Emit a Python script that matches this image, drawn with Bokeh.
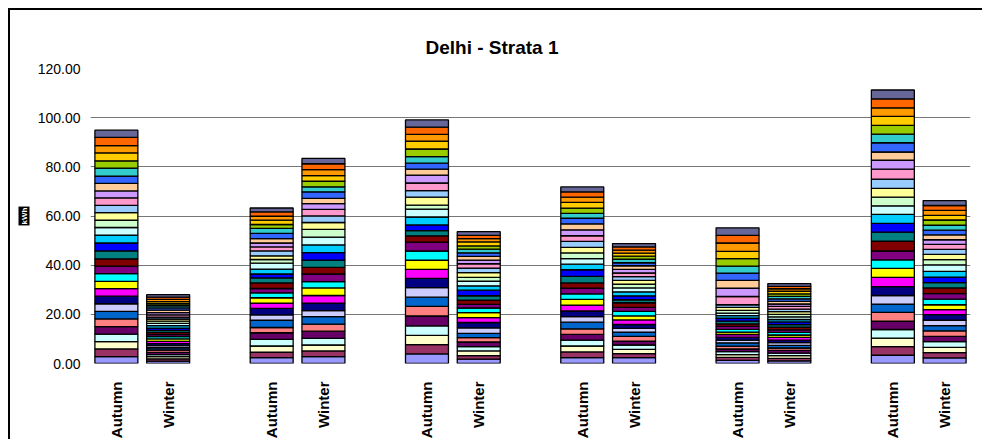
import math
from bokeh.plotting import figure
from bokeh.models import ColumnDataSource, FixedTicker, PrintfTickFormatter, Range1d, Title
from bokeh.embed import file_html
from bokeh.resources import INLINE

title_text = "Delhi -  Strata 1"
y_label = "kWh"
seasons = ["Autumn", "Winter"] * 6
y_ticks = [0, 20, 40, 60, 80, 100, 120]

# Excel default series palette, series 1 (bottom) .. 31 (top)
colors = ["#9999FF", "#993366", "#FFFFCC", "#CCFFFF", "#660066", "#FF8080", "#0066CC",
          "#CCCCFF", "#000080", "#FF00FF", "#FFFF00", "#00FFFF", "#800080", "#800000",
          "#008080", "#0000FF", "#00CCFF", "#CCFFFF", "#CCFFCC", "#FFFF99", "#99CCFF",
          "#FF99CC", "#CC99FF", "#FFCC99", "#3366FF", "#33CCCC", "#99CC00", "#FFCC00",
          "#FF9900", "#FF6600", "#666699"]

# segment values of each bar, bottom to top (kWh)
autumn_1 = [2.82, 3.09, 2.95, 3.09, 3.09, 3.09, 3.09, 3.09, 3.09, 3.09, 2.95, 3.09, 3.09, 2.95, 3.22, 3.22,
            3.22, 3.09, 2.95, 3.09, 2.95, 3.09, 2.82, 3.09, 2.95, 3.22, 2.95, 3.22, 2.95, 3.36, 2.95]
winter_1 = [1.0, 0.9, 0.9, 0.8, 0.9, 1.0, 0.9, 0.9, 0.8, 0.9, 1.0, 0.9, 0.9, 0.9, 0.8, 0.9,
            1.0, 0.9, 0.9, 0.9, 0.8, 0.9, 0.9, 1.0, 0.9, 0.9, 0.8, 0.9, 0.9, 0.9, 1.0]
autumn_2 = [2.42, 2.15, 2.55, 2.69, 2.69, 2.15, 2.95, 2.15, 2.69, 2.15, 2.15, 2.01, 1.75, 2.28, 2.01, 1.61,
            2.01, 2.42, 1.48, 1.48, 2.01, 1.61, 1.61, 1.75, 2.15, 2.01, 1.61, 1.75, 1.61, 1.75, 1.61]
winter_2 = [2.82, 2.28, 2.42, 2.69, 2.95, 2.82, 3.09, 2.42, 3.09, 3.09, 3.09, 2.55, 3.09, 2.69, 2.95, 3.09,
            3.09, 3.22, 3.09, 2.82, 2.69, 2.69, 2.28, 2.15, 2.69, 2.01, 2.28, 2.28, 2.42, 2.42, 2.15]
autumn_3 = [3.89, 3.76, 3.76, 3.89, 4.03, 3.89, 3.76, 3.89, 3.76, 3.62, 3.76, 3.76, 3.62, 2.55, 2.15, 2.28,
            3.22, 3.22, 1.61, 3.22, 2.69, 3.09, 3.22, 2.42, 2.42, 2.69, 3.09, 3.22, 2.69, 2.95, 2.95]
winter_3 = [1.75, 1.48, 1.88, 1.75, 1.88, 1.75, 1.75, 2.28, 2.15, 2.01, 2.01, 1.88, 1.48, 1.75, 1.75, 2.28,
            1.75, 1.88, 1.61, 1.88, 1.88, 1.75, 1.48, 1.48, 1.48, 1.48, 1.34, 1.61, 1.34, 1.34, 1.48]
autumn_4 = [2.42, 2.28, 2.42, 2.42, 2.28, 2.28, 2.69, 2.28, 2.28, 2.42, 2.28, 2.28, 2.28, 2.15, 2.69, 2.69,
            2.28, 2.28, 2.28, 2.28, 2.42, 2.28, 2.42, 2.42, 2.28, 2.01, 2.15, 2.28, 2.15, 2.15, 2.01]
winter_4 = [2.42, 1.61, 1.75, 1.75, 1.61, 1.88, 1.75, 1.48, 1.61, 1.88, 1.61, 1.88, 1.61, 1.88, 1.21, 1.61,
            1.61, 1.61, 1.48, 1.61, 1.48, 1.48, 1.48, 1.48, 1.21, 1.48, 1.21, 1.21, 1.21, 1.34, 1.34]
autumn_5 = [1.3, 1.2, 1.1, 1.2, 1.1, 1.2, 1.3, 1.1, 1.2, 1.1, 1.0, 1.1, 1.2, 1.0, 1.1, 1.2,
            1.1, 1.0, 1.1, 1.2, 1.1, 3.36, 3.36, 3.22, 2.95, 2.82, 3.09, 2.95, 3.36, 3.09, 3.09]
winter_5 = [1.1, 1.0, 1.1, 1.0, 1.1, 1.0, 1.1, 1.1, 1.0, 1.1, 1.0, 1.1, 1.0, 1.1, 1.0, 1.1,
            1.0, 1.1, 1.0, 1.1, 1.0, 1.1, 1.0, 1.1, 1.0, 1.0, 1.0, 1.1, 1.0, 1.0, 1.1]
autumn_6 = [3.36, 3.49, 3.49, 3.49, 3.36, 3.62, 3.36, 3.49, 3.62, 3.76, 3.62, 3.49, 3.62, 4.03, 3.62, 3.62,
            3.62, 3.49, 3.49, 3.62, 3.76, 4.03, 3.62, 3.36, 3.76, 3.49, 3.62, 3.62, 3.49, 3.62, 3.62]
winter_6 = [2.28, 2.15, 2.15, 2.28, 2.15, 2.28, 2.15, 2.15, 2.28, 2.01, 2.01, 2.28, 2.28, 2.28, 2.15, 2.28,
            2.28, 2.69, 2.15, 2.15, 2.01, 2.01, 1.88, 2.01, 1.88, 2.01, 2.15, 1.88, 2.01, 2.01, 2.01]

bars = [autumn_1, winter_1, autumn_2, winter_2, autumn_3, winter_3,
        autumn_4, winter_4, autumn_5, winter_5, autumn_6, winter_6]

# layout: two bars per group, one empty slot between groups
xs = [(i // 2) * 3 + (i % 2) for i in range(len(bars))]
series = [f"s{k + 1}" for k in range(len(colors))]
data = {"x": xs}
for k, name in enumerate(series):
    data[name] = [bar[k] for bar in bars]
source = ColumnDataSource(data)

FONT = "Liberation Sans"

p = figure(width=974, height=431, x_range=Range1d(-0.5, 16.5), y_range=Range1d(0, 120),
           output_backend="svg", toolbar_location=None,
           min_border_left=80, min_border_right=14, min_border_top=58, min_border_bottom=75)
p.styles = {"margin-left": "8px", "margin-top": "8px",
            "border-left": "2px solid black", "border-top": "2px solid black"}
p.outline_line_color = None
p.background_fill_color = "white"
p.border_fill_color = "white"

p.vbar_stack(series, x="x", width=0.83, fill_color=colors, line_color="black",
             line_width=1.3, source=source)

p.title.text = title_text
p.title.align = "left"
p.title.offset = 335
p.title.standoff = 22
p.title.text_font = FONT
p.title.text_font_size = "19px"
p.title.text_font_style = "bold"
p.title.text_color = "black"

p.xgrid.grid_line_color = None
p.ygrid.grid_line_color = "#777777"
p.ygrid.grid_line_width = 1

p.xaxis.ticker = FixedTicker(ticks=xs)
p.xaxis.major_label_overrides = {x: s for x, s in zip(xs, seasons)}
p.xaxis.major_label_orientation = math.pi / 2
p.xaxis.major_label_standoff = 12
p.xaxis.major_label_text_font = FONT
p.xaxis.major_label_text_font_size = "15px"
p.xaxis.major_label_text_font_style = "bold"
p.xaxis.major_label_text_color = "black"
p.xaxis.axis_line_color = None
p.xaxis.major_tick_line_color = None
p.xaxis.minor_tick_line_color = None

yax = p.yaxis[0]
yax.ticker = FixedTicker(ticks=y_ticks)
yax.formatter = PrintfTickFormatter(format="%.2f")
yax.major_label_standoff = 4
yax.major_label_text_font = FONT
yax.major_label_text_font_size = "14px"
yax.major_label_text_color = "black"
yax.axis_line_color = None
yax.major_tick_line_color = None
yax.minor_tick_line_color = None

# y-axis caption: white bold text on a black box, rotated
ylab = Title(text=y_label, align="center", text_font=FONT, text_font_size="8px",
             text_font_style="bold", text_color="white", background_fill_color="black",
             standoff=10)
if hasattr(ylab, "padding"):
    ylab.padding = 1
p.add_layout(ylab, "left")

open("out.html", "w").write(file_html(p, INLINE))
